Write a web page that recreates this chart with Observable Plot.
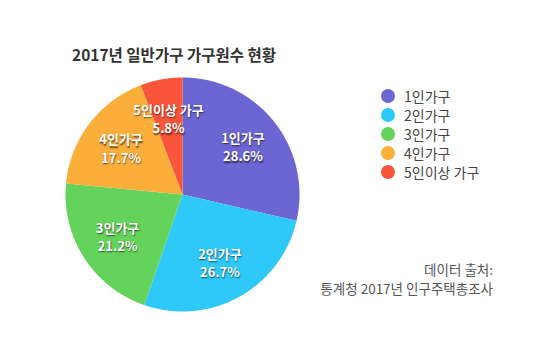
<!DOCTYPE html>
<html>
<head>
<meta charset="utf-8">
<script src="https://cdn.jsdelivr.net/npm/d3@7"></script>
<script src="https://cdn.jsdelivr.net/npm/@observablehq/plot@0.6"></script>
<style>
  html, body { margin: 0; padding: 0; background: #fff; }
  #wrap { position: relative; width: 550px; height: 360px; overflow: hidden; background: #fff;
          font-family: "Noto Sans CJK KR", "Noto Sans", sans-serif; }
  #wrap svg { position: absolute; left: 0; top: 0; }
  #wrap svg text { text-shadow: 0.6px 1.2px 1.5px rgba(0,0,0,0.6); }
  #title { position: absolute; left: 72px; top: 43px; font-size: 15.5px; font-weight: 700; color: #333; white-space: nowrap; }
  #legend { position: absolute; left: 381px; top: 86px; }
  .item { display: flex; align-items: center; height: 19px; font-size: 14px; color: #444; white-space: nowrap; }
  .sw { width: 14px; height: 14px; border-radius: 50%; margin-right: 9px; }
  #source { position: absolute; right: 57px; top: 260px; text-align: right; font-size: 13.5px; color: #555; line-height: 19px; white-space: nowrap; }
</style>
</head>
<body>
<div id="wrap">
  <div id="title"></div>
  <div id="legend"></div>
  <div id="source"></div>
</div>
<script>
const title = "2017년 일반가구 가구원수 현황";
const categories = ["1인가구", "2인가구", "3인가구", "4인가구", "5인이상 가구"];
const shares = [28.6, 26.7, 21.2, 17.7, 5.8];
const colors = ["#6b66d1", "#2ec8f9", "#64d35b", "#fcae3b", "#f9553a"];
const sourceLines = ["데이터 출처:", "통계청 2017년 인구주택총조사"];

const table = categories.map((c, i) => ({category: c, share: shares[i]}));
const arcs = d3.pie().sort(null).value(d => d.share)(table);

// slice outlines (unit circle geometry, angles from d3.pie)
const slicePts = [];
for (const a of arcs) {
  const cat = a.data.category;
  slicePts.push({category: cat, x: 0, y: 0});
  const n = Math.max(2, Math.ceil((a.endAngle - a.startAngle) / 0.01));
  for (let k = 0; k <= n; k++) {
    const t = a.startAngle + (a.endAngle - a.startAngle) * k / n;
    slicePts.push({category: cat, x: Math.sin(t), y: Math.cos(t)});
  }
}
const labels = arcs.map(a => {
  const m = (a.startAngle + a.endAngle) / 2;
  return {category: a.data.category, x: 0.66 * Math.sin(m), y: 0.66 * Math.cos(m),
          text: a.data.category + "\n" + a.data.share.toFixed(1) + "%"};
});

const cx = 182, cy = 194, r = 117;
const plot = Plot.plot({
  width: 550, height: 360,
  margin: 0,
  x: {domain: [-1, 1], range: [cx - r, cx + r], axis: null},
  y: {domain: [-1, 1], range: [cy + r, cy - r], axis: null},
  color: {domain: categories, range: colors},
  style: {fontFamily: '"Noto Sans CJK KR", "Noto Sans", sans-serif', background: "transparent"},
  marks: [
    Plot.line(slicePts, {x: "x", y: "y", z: "category", fill: "category", stroke: "none"}),
    Plot.text(labels, {x: "x", y: "y", text: "text", fill: "white", fontSize: 13, fontWeight: 700, lineHeight: 1.4})
  ]
});
const wrap = document.getElementById("wrap");
wrap.insertBefore(plot, wrap.firstChild);

document.getElementById("title").textContent = title;
const color = plot.scale("color");
const legend = document.getElementById("legend");
for (const c of categories) {
  const item = document.createElement("div");
  item.className = "item";
  const sw = document.createElement("span");
  sw.className = "sw";
  sw.style.background = color.range[color.domain.indexOf(c)];
  const t = document.createElement("span");
  t.textContent = c;
  item.appendChild(sw); item.appendChild(t);
  legend.appendChild(item);
}
document.getElementById("source").innerHTML = sourceLines.map(s => `<div>${s}</div>`).join("");
</script>
</body>
</html>
